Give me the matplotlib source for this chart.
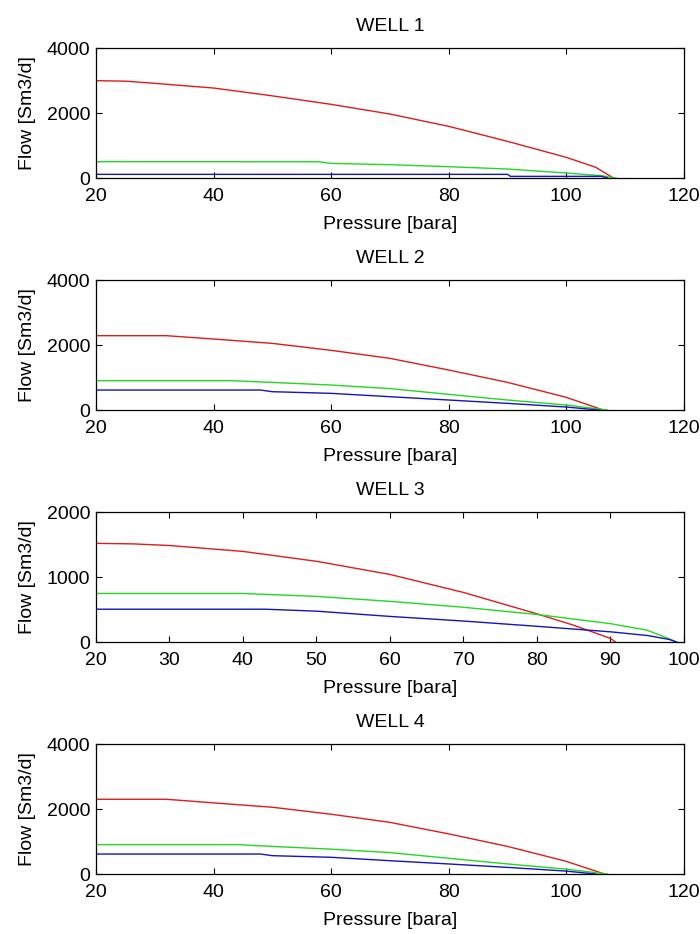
import matplotlib
matplotlib.use('Agg')
import matplotlib.pyplot as plt

plt.rcParams['font.family'] = ['Liberation Sans', 'DejaVu Sans']

# well 1
p1_red = [20, 25, 30, 40, 50, 60, 70, 80, 90, 100, 105, 108]
q1_red = [2995, 2980, 2913, 2769, 2528, 2267, 1969, 1590, 1128, 636, 330, 0]
p1_green = [20, 58, 60, 70, 80, 90, 100, 106, 108.5]
q1_green = [503, 500, 451, 410, 349, 277, 154, 72, 0]
p1_blue = [20, 90, 90.5, 106, 107]
q1_blue = [113, 113, 51, 51, 0]

# well 2
p2_red = [20, 32, 40, 50, 60, 70, 80, 90, 100, 106.3]
q2_red = [2287, 2287, 2185, 2051, 1836, 1590, 1231, 851, 390, 0]
p2_green = [20, 43, 50, 60, 70, 80, 90, 100, 107]
q2_green = [903, 903, 850, 769, 660, 482, 308, 154, 0]
p2_blue = [20, 48, 50, 60, 70, 80, 90, 100, 105.5]
q2_blue = [615, 615, 564, 513, 410, 308, 205, 92, 0]

# well 3
p3_red = [20, 25, 30, 40, 50, 60, 70, 80, 85, 90, 90.7]
q3_red = [1518, 1510, 1485, 1394, 1242, 1040, 763, 434, 258, 56, 0]
p3_green = [20, 40, 50, 60, 70, 80, 90, 95, 98, 99]
q3_green = [747, 747, 702, 626, 535, 424, 283, 182, 50, 0]
p3_blue = [20, 43, 50, 60, 70, 80, 90, 95, 98, 99]
q3_blue = [505, 505, 475, 394, 323, 242, 157, 101, 40, 0]

# well 4
p4_red = [20, 32, 40, 50, 60, 70, 80, 90, 100, 106.5]
q4_red = [2300, 2300, 2190, 2055, 1840, 1590, 1235, 850, 390, 0]
p4_green = [20, 44, 50, 60, 70, 80, 90, 100, 107]
q4_green = [905, 905, 850, 765, 660, 485, 310, 150, 0]
p4_blue = [20, 48, 50, 60, 70, 80, 90, 100, 105]
q4_blue = [615, 615, 565, 515, 410, 310, 205, 90, 0]

wells = [
    ('WELL 1', p1_red, q1_red, p1_green, q1_green, p1_blue, q1_blue, 120, 4000),
    ('WELL 2', p2_red, q2_red, p2_green, q2_green, p2_blue, q2_blue, 120, 4000),
    ('WELL 3', p3_red, q3_red, p3_green, q3_green, p3_blue, q3_blue, 100, 2000),
    ('WELL 4', p4_red, q4_red, p4_green, q4_green, p4_blue, q4_blue, 120, 4000),
]

fig = plt.figure(figsize=(7, 9.34), dpi=100)
bottoms = [0.8094, 0.561, 0.3126, 0.0642]

for k in range(4):
    title, pr, qr, pg, qg, pb, qb, xmax, ymax = wells[k]
    ax = fig.add_axes([0.137, bottoms[k], 0.84, 0.1392])
    ax.plot(pr, qr, color='#e01b1b', lw=1.0)
    ax.plot(pg, qg, color='#22d822', lw=1.0)
    ax.plot(pb, qb, color='#1414c0', lw=1.0)
    ax.set_xlim(20, xmax)
    ax.set_ylim(0, ymax)
    if xmax == 100:
        ax.set_xticks(range(20, 101, 10))
    else:
        ax.set_xticks(range(20, 121, 20))
    ax.set_yticks([0, ymax / 2, ymax])
    ax.set_yticklabels([str(0), str(ymax // 2), str(ymax)])
    ax.tick_params(direction='in', top=True, right=True, length=4, width=0.8, labelsize=14)
    ax.tick_params(axis='x', pad=7)
    ax.tick_params(axis='y', pad=4)
    for s in ax.spines.values():
        s.set_linewidth(0.9)
    ax.set_title(title, fontsize=14, pad=12)
    ax.set_xlabel('Pressure [bara]', fontsize=14, labelpad=8)
    ax.set_ylabel('Flow [Sm3/d]', fontsize=14, labelpad=8)

fig.savefig('out.png', dpi=100)
